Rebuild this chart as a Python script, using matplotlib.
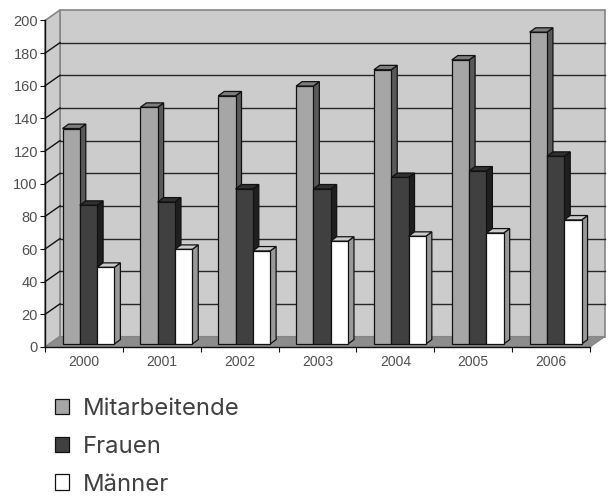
#!/usr/bin/python
import numpy as np
import matplotlib
matplotlib.use('Agg')
import matplotlib.pyplot as plt
from matplotlib.patches import Polygon

plt.rcParams['font.family'] = ['Liberation Sans', 'DejaVu Sans']

years = ['2000', '2001', '2002', '2003', '2004', '2005', '2006']
mitarbeitende = [132, 145, 152, 158, 168, 174, 191]
frauen = [85, 87, 95, 95, 102, 106, 115]
maenner = [47, 58, 57, 63, 66, 68, 76]
y_ticks = list(range(0, 201, 20))

W, H = 609, 496
PX_X = 545 / 7       # pixels per category
PX_Y = 326.5 / 200   # pixels per value unit

# wall depth and bar depth, in data units
DX, DY = 15 / PX_X, 10.5 / PX_Y
BDX, BDY = 6 / PX_X, 4.4 / PX_Y
BASE = 3 / PX_Y
BAR_W = 17.3 / PX_X
START = 17.5 / PX_X

series = [
    ('Mitarbeitende', mitarbeitende, '#a6a6a6', '#595959', '#7d7d7d'),
    ('Frauen', frauen, '#404040', '#1f1f1f', '#303030'),
    ('Männer', maenner, '#ffffff', '#999999', '#cccccc'),
]

fig = plt.figure(figsize=(W / 100, H / 100), dpi=100)
ax = fig.add_axes([45 / W, 1 - 347 / H, 545 / W, 326.5 / H])
ax.set_xlim(0, 7)
ax.set_ylim(0, 200)
ax.patch.set_visible(False)


def poly(pts, face, edge, lw, z):
    ax.add_patch(Polygon(pts, closed=True, facecolor=face, edgecolor=edge,
                         linewidth=lw, zorder=z, clip_on=False))


# walls and floor
poly([(DX, DY), (7 + DX, DY), (7 + DX, 200 + DY), (DX, 200 + DY)], '#cccccc', '#858585', 1.2, 1)
poly([(0, 0), (DX, DY), (DX, 200 + DY), (0, 200)], '#cccccc', '#858585', 1.2, 1)
poly([(0, 0), (7, 0), (7 + DX, DY), (DX, DY)], '#8c8c8c', '#858585', 0.8, 1)

for v in y_ticks[1:-1]:
    ax.plot([DX, 7 + DX], [v + DY, v + DY], color='#262626', lw=1, zorder=2, clip_on=False)
    ax.plot([0, DX], [v, v + DY], color='#111111', lw=1, zorder=2, clip_on=False)

# bars, back to front inside each group
z = 3
handles = []
for k, (name, values, front, side, top) in enumerate(series):
    x0 = np.arange(len(years)) + START + k * BAR_W
    for x, v in zip(x0, values):
        y1 = BASE + v
        poly([(x + BAR_W, BASE), (x + BAR_W + BDX, BASE + BDY),
              (x + BAR_W + BDX, y1 + BDY), (x + BAR_W, y1)], side, '#111111', 0.9, z + 3 * k)
        poly([(x, y1), (x + BDX, y1 + BDY), (x + BAR_W + BDX, y1 + BDY), (x + BAR_W, y1)],
             top, '#111111', 0.9, z + 3 * k)
    bars = ax.bar(x0, values, BAR_W, bottom=BASE, align='edge', color=front,
                  edgecolor='#111111', linewidth=0.9, zorder=z + 3 * k + 1, clip_on=False,
                  label=name)
    handles.append(bars)

for s in ['top', 'right']:
    ax.spines[s].set_visible(False)
for s in ['left', 'bottom']:
    ax.spines[s].set_color('#111111')
    ax.spines[s].set_linewidth(1)
    ax.spines[s].set_zorder(20)

ax.set_yticks(y_ticks)
ax.tick_params(axis='y', length=3.6, width=0.8, color='#111111', pad=1.5,
               labelsize=10.5, labelcolor='#505050')
ax.set_xticks(np.arange(0, 8))
ax.set_xticklabels([])
ax.set_xticks(np.arange(0.5, 7), minor=True)
ax.set_xticklabels(years, minor=True)
ax.tick_params(axis='x', which='major', length=3.6, width=0.8, color='#111111')
ax.tick_params(axis='x', which='minor', length=0, pad=5.5, labelsize=10, labelcolor='#505050')

leg = ax.legend(handles=handles, loc='upper left', bbox_to_anchor=(54.7 / W, 1 - 398 / H),
                bbox_transform=fig.transFigure, frameon=False,
                prop={'family': 'Inter', 'size': 17.2},
                labelcolor='#404040', handlelength=0.61, handleheight=0.61,
                handletextpad=0.58, labelspacing=0.66, borderpad=0, borderaxespad=0)

fig.savefig('out.png', dpi=100)
